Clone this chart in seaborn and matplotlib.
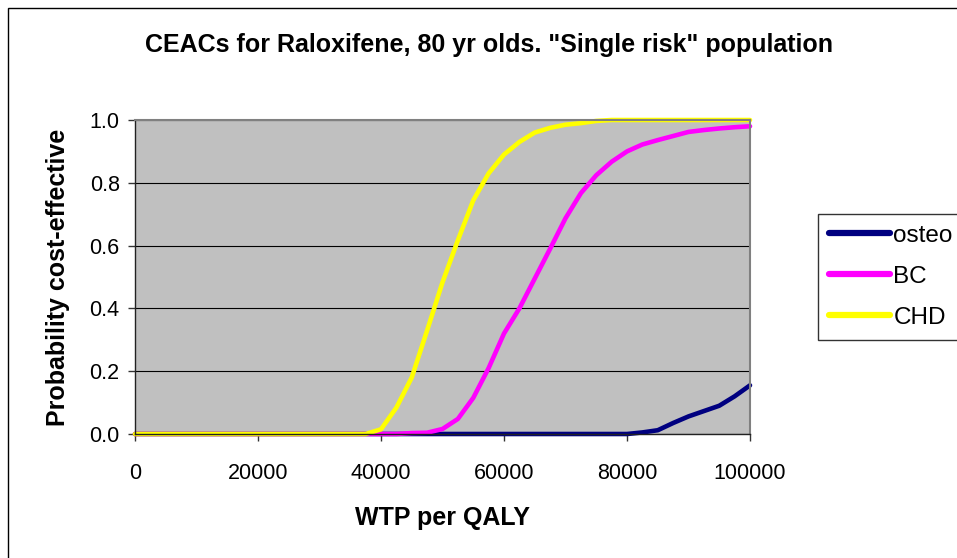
import pandas as pd
import seaborn as sns
import matplotlib.pyplot as plt
from matplotlib.patches import Rectangle


# WTP thresholds (x axis)
wtp = [0, 2500, 5000, 7500, 10000, 12500, 15000, 17500, 20000, 22500,
       25000, 27500, 30000, 32500, 35000, 37500, 40000, 42500, 45000, 47500,
       50000, 52500, 55000, 57500, 60000, 62500, 65000, 67500, 70000, 72500,
       75000, 77500, 80000, 82500, 85000, 87500, 90000, 92500, 95000, 97500,
       100000]

# Probability cost-effective for each risk group
osteo = [0, 0, 0, 0, 0, 0, 0, 0, 0, 0,
         0, 0, 0, 0, 0, 0, 0, 0, 0, 0,
         0, 0, 0, 0, 0, 0, 0, 0, 0, 0,
         0, 0, 0, 0.005, 0.012, 0.035, 0.056, 0.073, 0.09, 0.12,
         0.155]
bc = [0, 0, 0, 0, 0, 0, 0, 0, 0, 0,
      0, 0, 0, 0, 0, 0, 0, 0, 0.003, 0.004,
      0.016, 0.048, 0.115, 0.21, 0.32, 0.40, 0.495, 0.59, 0.687, 0.767,
      0.824, 0.867, 0.90, 0.922, 0.936, 0.949, 0.962, 0.968, 0.973, 0.977,
      0.98]
chd = [0, 0, 0, 0, 0, 0, 0, 0, 0, 0,
       0, 0, 0, 0, 0, 0, 0.015, 0.084, 0.18, 0.33,
       0.483, 0.617, 0.744, 0.83, 0.89, 0.93, 0.96, 0.975, 0.985, 0.99,
       0.997, 1.0, 1.0, 1.0, 1.0, 1.0, 1.0, 1.0, 1.0, 1.0,
       1.0]

series_names = ["osteo", "BC", "CHD"]
colors = {"osteo": "#000080", "BC": "#FF00FF", "CHD": "#FFFF00"}

df = pd.concat([
    pd.DataFrame({"WTP": wtp, "prob": vals, "series": name})
    for name, vals in zip(series_names, [osteo, bc, chd])
])

sns.set_style("white")
plt.rcParams["font.family"] = ["Liberation Sans", "DejaVu Sans"]
plt.rcParams["text.color"] = "black"
plt.rcParams["axes.labelcolor"] = "black"
plt.rcParams["xtick.color"] = "black"
plt.rcParams["ytick.color"] = "black"

fig = plt.figure(figsize=(9.57, 5.58), dpi=100)
ax = fig.add_axes([135 / 957, 1 - 434 / 558, 615 / 957, 314 / 558])

sns.lineplot(data=df, x="WTP", y="prob", hue="series", hue_order=series_names,
             palette=colors, linewidth=3.3, ax=ax, clip_on=False, legend=True)

ax.set_facecolor("#C0C0C0")
ax.set_xlim(0, 100000)
ax.set_ylim(0, 1.0)
ax.set_xticks([0, 20000, 40000, 60000, 80000, 100000])
ax.set_yticks([0, 0.2, 0.4, 0.6, 0.8, 1.0])
ax.set_yticklabels(["0.0", "0.2", "0.4", "0.6", "0.8", "1.0"])
ax.yaxis.grid(True, color="black", linewidth=0.8)
ax.set_axisbelow(True)
ax.tick_params(axis="both", direction="out", length=5, width=1, color="#333333",
               labelcolor="black", labelsize=15.5, pad=6, left=True, bottom=True)
ax.tick_params(axis="x", pad=16)
for s in ["left", "bottom"]:
    ax.spines[s].set_color("#222222")
    ax.spines[s].set_linewidth(1)
for s in ["top", "right"]:
    ax.spines[s].set_color("#808080")
    ax.spines[s].set_linewidth(1.5)

ax.set_xlabel("WTP per QALY", fontsize=18, fontweight="bold", labelpad=16, color="black")
ax.set_ylabel("Probability cost-effective", fontsize=18, fontweight="bold", labelpad=14,
              color="black")
fig.text(0.511, 1 - 45 / 558, 'CEACs for Raloxifene, 80 yr olds. "Single risk" population',
         ha="center", va="center", fontsize=18, fontweight="bold", color="black")

# Legend on the right
handles, labels = ax.get_legend_handles_labels()
for h in handles:
    h.set_linewidth(4.5)
    h.set_solid_capstyle("round")
leg = ax.legend(handles, labels, loc="upper left",
                bbox_to_anchor=(818 / 957, 1 - 214 / 558), bbox_transform=fig.transFigure,
                frameon=True, fancybox=False, fontsize=17.5, handlelength=2.5,
                handletextpad=0.15, labelspacing=0.78, borderpad=0.45,
                borderaxespad=0, labelcolor="black")
leg.get_frame().set_edgecolor("black")
leg.get_frame().set_linewidth(1)

# Outer chart border
fig.patches.append(Rectangle((8 / 957, -0.01), 1.0, 1 - 8 / 558 + 0.01,
                             transform=fig.transFigure, fill=False,
                             edgecolor="black", linewidth=1))

fig.savefig("out.png", dpi=100)
